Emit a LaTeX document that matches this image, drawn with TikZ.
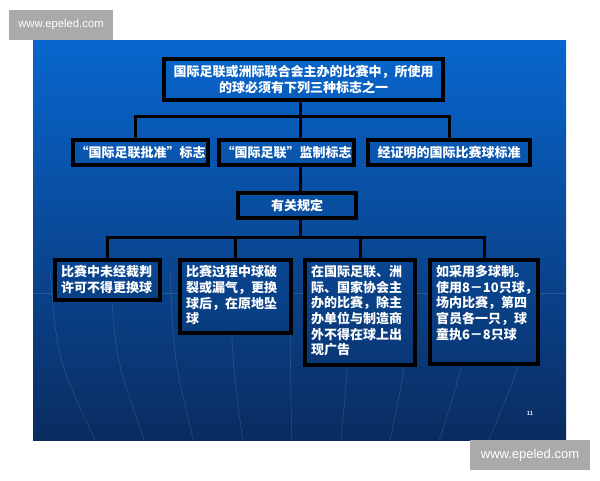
\documentclass[tikz,border=0pt]{standalone}
\usepackage{fontspec}
\newfontfamily\cjk{Noto Sans CJK SC}
\newfontfamily\webfont{Liberation Sans}
\definecolor{slidetop}{RGB}{8,102,206}
\definecolor{slidemid}{RGB}{12,74,162}
\definecolor{slidebot}{RGB}{10,44,96}
\definecolor{markgray}{RGB}{170,170,170}
\definecolor{pagenum}{RGB}{215,232,255}
\newcommand{\cell}[3]{\parbox[c][#2][t]{#1}{\raggedright #3}}

\begin{document}
\begin{tikzpicture}[x=1pt,y=-1pt,line cap=butt,line join=miter]
		\tikzset{
			frame/.style={draw=black,line width=3.5pt,text=white,font=\cjk\bfseries\fontsize{13}{15.6}\selectfont},
			leaf/.style={frame,inner xsep=6pt,inner ysep=5.5pt},
			wire/.style={line width=3pt,black},
			streak/.style={white,opacity=0.13,line width=0.6pt},
			stamp/.style={fill=markgray,text=white,inner sep=0pt,font=\webfont}
		}
		\useasboundingbox (0,0) rectangle (600,480);
		\fill[white] (0,0) rectangle (600,480);
		% slide
		\shade[top color=slidetop,middle color=slidemid,bottom color=slidebot] (33,40) rectangle (566,440);
		\begin{scope}[even odd rule]
			\clip (33,40) rectangle (566,440) (55,260) rectangle (160,300) (180,260) rectangle (291,333) (305,260) rectangle (415,365) (430,260) rectangle (538,364);
			\foreach \u in {-250,-190,...,250}
				\draw[streak] (300+\u,270) .. controls (300+0.97*\u,360) .. (300+0.82*\u,440);
			\draw[streak] (33,293) -- (566,293);
		\end{scope}
		% boxes
		\node[frame,inner sep=0pt,minimum width=279pt,minimum height=41pt,align=center] (head) at (303.5,79.5) {国际足联或洲际联合会主办的比赛中，所使用\\的球必须有下列三种标志之一};
		\node[frame,inner sep=0pt,minimum width=135pt,minimum height=25pt] (markA) at (140.5,152.5) {“国际足联批准”标志};
		\node[frame,inner sep=0pt,minimum width=135pt,minimum height=25pt] (markB) at (286.5,152.5) {“国际足联”监制标志};
		\node[frame,inner sep=0pt,minimum width=162pt,minimum height=25pt] (markC) at (449,152.5) {经证明的国际比赛球标准};
		\node[frame,inner sep=0pt,minimum width=118pt,minimum height=25pt] (rules) at (297,205.5) {有关规定};
		\node[leaf] (lawA) at (107.5,280) {\cell{93pt}{29pt}{比赛中未经裁判\\许可不得更换球}};
		\node[leaf] (lawB) at (235.5,296.5) {\cell{99pt}{62pt}{比赛过程中球破\\裂或漏气，更换\\球后，在原地坠\\球}};
		\node[leaf] (lawC) at (360,312.5) {\cell{98pt}{94pt}{在国际足联、洲\\际、国家协会主\\办的比赛，除主\\办单位与制造商\\外不得在球上出\\现广告}};
		\node[leaf] (lawD) at (484,312) {\cell{96pt}{93pt}{如采用多球制。\\使用8－10只球，\\场内比赛，第四\\官员各一只，球\\童执6－8只球}};
		% connectors
		\coordinate (busTop) at (300,116);
		\coordinate (busLow) at (300,237);
		\draw[wire] (head.south -| busTop) -- (busTop);
		\draw[wire] ([xshift=-5.5pt]markA.north) |- (busTop) -| (markC.north);
		\draw[wire] (busTop) -- (markB.north -| busTop);
		\draw[wire] (markB.south -| busTop) -- (rules.north -| busTop);
		\draw[wire] (rules.south -| busLow) -- (busLow);
		\draw[wire] (lawA.north) |- (busLow) -| (lawD.north);
		\draw[wire] (lawB.north) -- (lawB.north |- busLow);
		\draw[wire] (lawC.north) -- (lawC.north |- busLow);
		% page number and stamps
		\node[text=pagenum,font=\webfont\bfseries\fontsize{6}{7}\selectfont] (page) at (530,413) {11};
		\node[stamp,minimum width=104pt,minimum height=30pt,font=\webfont\fontsize{11.3}{13}\selectfont] (stampTop) at (61,25) {www.epeled.com};
		\node[stamp,minimum width=120pt,minimum height=30pt,font=\webfont\fontsize{13}{15}\selectfont] (stampLow) at (530,455) {www.epeled.com};
	\end{tikzpicture}
\end{document}
